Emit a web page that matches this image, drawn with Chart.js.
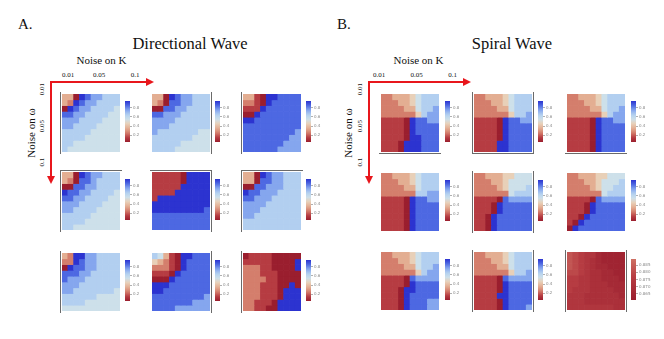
<!DOCTYPE html>
<html>
<head>
<meta charset="utf-8">
<script src="https://cdn.jsdelivr.net/npm/chart.js@4"></script>
<style>
  body { margin: 0; background: #fff; width: 664px; height: 339px; position: relative; overflow: hidden;
         font-family: "Liberation Serif", "Times New Roman", Tinos, "Nimbus Roman", "DejaVu Serif", serif; color: #111; }
  .t { position: absolute; white-space: nowrap; line-height: 1; font-family: inherit; }
  .c { transform: translateX(-50%); }
  .v { transform: translate(-50%, -50%) rotate(-90deg); }
  .box { position: absolute; }
  .fr { position: absolute; box-sizing: border-box; border: 0 solid #6a6a6a; width: 62px; height: 62px; }
</style>
</head>
<body>
<svg width="664" height="339" style="position:absolute;left:0;top:0">
  <g stroke="#e8161c" stroke-width="2" fill="#e8161c">
    <line x1="51" y1="82" x2="147" y2="82"/><polygon points="146,78 154,82 146,86" stroke="none"/>
    <line x1="51" y1="81" x2="51" y2="177"/><polygon points="47,176 51,184 55,176" stroke="none"/>
    <line x1="369" y1="82" x2="464" y2="82"/><polygon points="463,78 471,82 463,86" stroke="none"/>
    <line x1="369" y1="81" x2="369" y2="177"/><polygon points="365,176 369,184 373,176" stroke="none"/>
  </g>
</svg>

<div class="t" style="left:18px;top:17px;font-size:15px">A.</div>
<div class="t" style="left:337px;top:17px;font-size:15px">B.</div>
<div class="t c" style="left:190px;top:36px;font-size:16.5px">Directional Wave</div>
<div class="t c" style="left:512px;top:36px;font-size:16.5px">Spiral Wave</div>

<script>
// ---- data: one string per heatmap row, digits are colour levels (0 = dark red ... 9 = deep blue)
const noiseK = ['0.01', '0.05', '0.1'];
const noiseW = ['0.01', '0.05', '0.1'];

const dir11 = ['3309877666','3298776666','0987766665','8877666655','7776666555',
               '7766665555','6666655555','6666555555','6655555555','6555555555'];
const dir12 = ['3309877666','3208877666','0088776666','8877766666','7777666666',
               '7776666666','7666666655','6666666555','6666655555','6666555555'];
const dir13 = ['3310998888','2210988888','1119888888','0098888888','9988888888',
               '8888888888','8888888887','8888888877','8888888777','8888887777'];
const dir21 = ['3309877666','3208876666','0088776666','9887766665','8877666655',
               '7776666555','7766665555','6666655555','6666555555','6655555555'];
const dir22 = ['1111109999','1111109999','1111199999','1111999999','1999999999',
               '9999999999','9999999998','8888888888','8888888888','8888888888'];
const dir23 = ['3309877666','3308877666','0088777666','9887776666','8877766666',
               '7777666666','7776666666','7766666666','6666666666','6666666666'];
const dir31 = ['3299776666','2298776666','0988776666','8887766666','8777666666',
               '7776666666','7766666665','6666665555','6666555555','5555555555'];
const dir32 = ['6531099888','4321098888','2221098888','1110988888','0009888888',
               '9998888888','9988888888','8888888887','8888888777','8888777777'];
const dir33 = ['0111100000','1111100009','2221100009','2221110000','2222110000',
               '2221110090','2221110999','2221110999','2211109999','2211009999'];

const spi11 = ['2233345666','2223345666','2222335667','2222224677','1111098877',
               '1111098888','1111098888','1111099888','1110999888','1110999888'];
const spi12 = ['2233345666','2223345666','2222335666','2222224667','1111098877',
               '1111098888','1111098888','1111098888','1111998888','1111998888'];
const spi13 = ['2233345666','2223345666','2222335667','2222224677','1111098877',
               '1111098888','1111098888','1111098888','1111098888','1111098888'];
const spi21 = ['2233345666','2223345666','2222335666','2222226677','1111098877',
               '1111098888','1111098888','1111098888','1111098888','1111098888'];
const spi22 = ['2233344555','2223345555','2222345556','2222225666','1111087777',
               '1110988888','1110988888','1109888888','1109888888','1109888888'];
const spi23 = ['2233344555','2223345556','2222345566','2222225666','1111087777',
               '1110988888','1110988888','1109888888','1098888888','0988888888'];
const spi31 = ['2233345666','2223345666','2222335667','2222224677','1111087777',
               '1111098888','1110998888','1110988888','1110988877','1110988877'];
const spi32 = ['2233345666','2223345666','2222335666','2222224667','1111087777',
               '1111098888','1111098888','1111998888','1111098888','1111098887'];
const spi33 = ['7654421111','7654321111','7654322111','6654332211','5544332221',
               '5544333222','5444333322','4443333332','4443333333','4444444433'];

// colour bar ranges: [min, max, step]
const barDefault = [0.05, 0.95, 0.2];
const barNarrow = [0.8605, 0.8895, 0.005];

// ---- colours
const palette = ['#9a1e2e','#b63c42','#d47e6c','#e3ae92','#e8d0b8',
                 '#cde0ea','#b2cff0','#85a6ee','#4d68e2','#2c33d0'];

function hexToRgb(h) {
  return [1, 3, 5].map(i => parseInt(h.slice(i, i + 2), 16));
}

function levelColor(l) {
  const i = Math.max(0, Math.min(Math.floor(l), palette.length - 2));
  const f = l - i;
  const a = hexToRgb(palette[i]), b = hexToRgb(palette[i + 1]);
  return 'rgb(' + a.map((v, k) => Math.round(v + (b[k] - v) * f)).join(',') + ')';
}

function addBox(x, y, w, h) {
  const div = document.createElement('div');
  div.className = 'box';
  div.style.left = x + 'px';
  div.style.top = y + 'px';
  const canvas = document.createElement('canvas');
  canvas.width = w;
  canvas.height = h;
  div.appendChild(canvas);
  document.body.appendChild(div);
  return canvas;
}

function drawHeatmap(x, y, rows, lo, hi) {
  const canvas = addBox(x, y, 58, 58);
  new Chart(canvas, {
    type: 'bar',
    data: {
      labels: rows[0].split('').map((_, i) => String(i)),
      datasets: rows.map(r => ({
        data: r.split('').map(() => 1),
        backgroundColor: r.split('').map(d => levelColor(lo + (+d) / 9 * (hi - lo))),
        borderWidth: 0,
        barPercentage: 1,
        categoryPercentage: 1
      }))
    },
    options: {
      responsive: false, animation: false, events: [],
      layout: { padding: 0 },
      plugins: { legend: { display: false }, tooltip: { enabled: false } },
      scales: {
        x: { display: false, stacked: true },
        y: { display: false, stacked: true, reverse: true, min: 0, max: 10 }
      }
    }
  });
}

function drawColorBar(x, y, range, lo, hi, dec) {
  const canvas = addBox(x, y, 23, 41);
  new Chart(canvas, {
    type: 'bar',
    data: {
      labels: [''],
      datasets: [{
        data: [[range[0], range[1]]],
        backgroundColor: ctx => {
          const area = ctx.chart.chartArea;
          if (!area) return palette[0];
          const g = ctx.chart.ctx.createLinearGradient(0, area.bottom, 0, area.top);
          for (let k = 0; k <= 20; k++) g.addColorStop(k / 20, levelColor(lo + (hi - lo) * k / 20));
          return g;
        },
        borderWidth: 0,
        barPercentage: 1,
        categoryPercentage: 1,
        inflateAmount: 0
      }]
    },
    options: {
      responsive: false, animation: false, events: [],
      layout: { padding: 0 },
      plugins: { legend: { display: false }, tooltip: { enabled: false } },
      scales: {
        x: { display: false },
        y: {
          position: 'right', min: range[0], max: range[1],
          ticks: { stepSize: range[2], includeBounds: false, padding: 1,
                   font: { size: 4, family: 'DejaVu Sans' }, color: '#8a8a8a',
                   callback: v => v.toFixed(dec) },
          grid: { drawOnChartArea: false, tickLength: 2, color: '#b0b0b0' },
          border: { display: false },
          afterFit: s => { s.width = 18; s.paddingTop = 0; s.paddingBottom = 0; }
        }
      }
    }
  });
}

function addFrame(x, y, sides) {
  if (!sides) return;
  const f = document.createElement('div');
  f.className = 'fr';
  f.style.left = (x - 2) + 'px';
  f.style.top = (y - 2) + 'px';
  f.style.borderTopWidth = sides.includes('t') ? '1px' : '0';
  f.style.borderBottomWidth = sides.includes('b') ? '1px' : '0';
  f.style.borderLeftWidth = sides.includes('l') ? '1px' : '0';
  f.style.borderRightWidth = sides.includes('r') ? '1px' : '0';
  document.body.appendChild(f);
}

function addText(txt, x, y, size, cls) {
  const d = document.createElement('div');
  d.className = 't ' + cls;
  d.textContent = txt;
  d.style.left = x + 'px';
  d.style.top = y + 'px';
  d.style.fontSize = size + 'px';
  document.body.appendChild(d);
}

// ---- layout
const panels = [
  { maps: [dir11, dir12, dir13, dir21, dir22, dir23, dir31, dir32, dir33],
    xs: [62, 152, 243], ys: [94, 172, 253], barGap: 63,
    frames: ['l', 'r', 'l', 'tl', 'tr', 'tl', 'l', 'r', 'l'],
    kCenters: [68, 99, 135], kTitle: 101.5, wTitle: 31, wTick: 42 },
  { maps: [spi11, spi12, spi13, spi21, spi22, spi23, spi31, spi32, spi33],
    xs: [381, 474, 567], ys: [94, 173, 252], barGap: 64,
    frames: ['b', 'lrb', 'b', '', 'lr', '', '', 'lr', 'lr'],
    kCenters: [379, 416.5, 452.5], kTitle: 418.5, wTitle: 348, wTick: 360 }
];

panels.forEach(p => {
  p.maps.forEach((rows, i) => {
    const x = p.xs[i % 3], y = p.ys[Math.floor(i / 3)];
    const narrow = rows === spi33;
    const lo = 0, hi = narrow ? 1.8 : 9;
    addFrame(x, y, p.frames[i]);
    drawHeatmap(x, y, rows, lo, hi);
    drawColorBar(x + p.barGap, y + 7, narrow ? barNarrow : barDefault, lo, hi, narrow ? 3 : 1);
  });
  addText('Noise on K', p.kTitle, 55, 11, 'c');
  noiseK.forEach((s, i) => addText(s, p.kCenters[i], 72, 7, 'c'));
  addText('Noise on ω', p.wTitle, 133, 11, 'v');
  [89, 125.5, 162].forEach((cy, i) => addText(noiseW[i], p.wTick, cy, 7, 'v'));
});
</script>
</body>
</html>
